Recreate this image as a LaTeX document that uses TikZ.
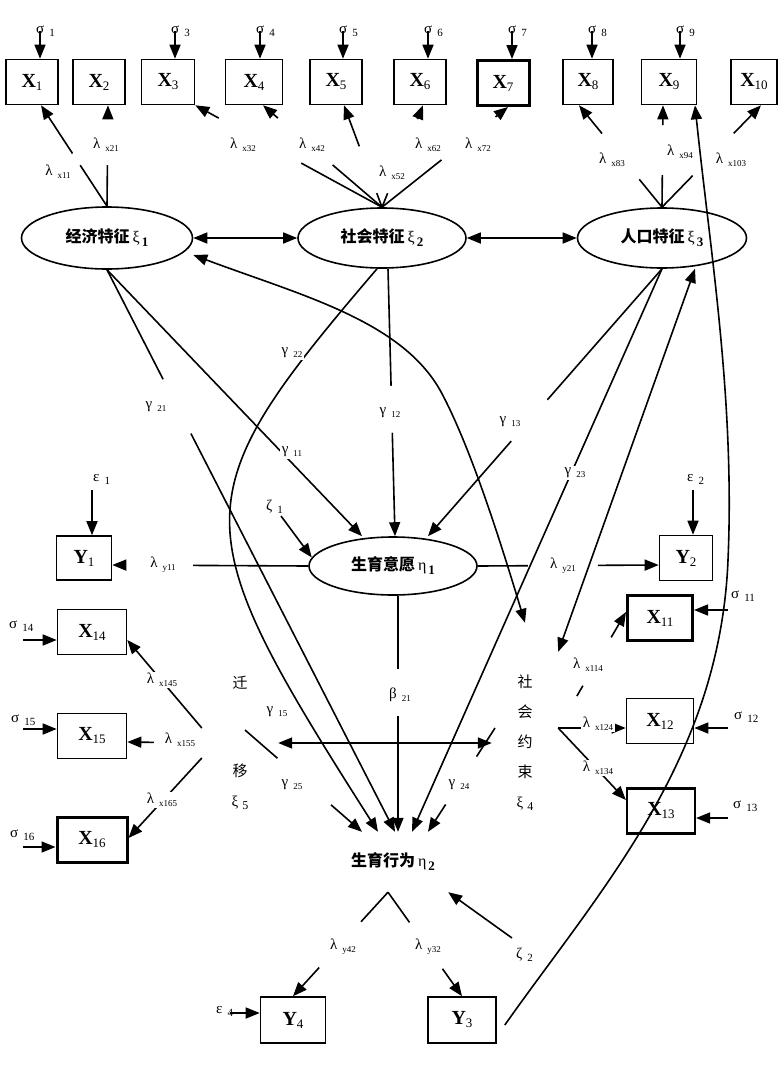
\documentclass[tikz,border=0pt]{standalone}
\usepackage{fontspec}
\setmainfont{Liberation Serif}
\newfontfamily\cjk{Noto Sans CJK SC}
\usetikzlibrary{shapes.geometric, arrows.meta}

\tikzstyle{obs} = [rectangle, draw=black, line width=1.6pt, minimum width=52pt, minimum height=45pt, inner sep=0pt, font=\fontsize{20}{20}\selectfont]
\tikzstyle{obsB} = [obs, line width=3pt]
\tikzstyle{latent} = [ellipse, draw=black, line width=1.6pt, minimum width=168pt, minimum height=60pt, inner sep=0pt, font=\fontsize{16}{16}\selectfont]
\tikzstyle{vlatent} = [rectangle, inner sep=0pt, align=center, font=\cjk\fontsize{15}{30}\selectfont]
\tikzstyle{coef} = [inner sep=1.5pt, fill=white, font=\fontsize{15}{15}\selectfont]
\tikzstyle{err} = [inner sep=0pt, anchor=west, font=\fontsize{15}{15}\selectfont]
\tikzstyle{arrow} = [line width=1.6pt, -{Triangle[length=14pt,width=11pt]}]
\tikzstyle{darrow} = [line width=1.6pt, {Triangle[length=14pt,width=11pt]}-{Triangle[length=14pt,width=11pt]}]
\tikzset{brk/.style 2 args={dash pattern=on #1 off #2 on 3000pt}}

\newcommand{\xv}[2]{\textbf{#1}\raisebox{-3pt}{\fontsize{13}{13}\selectfont #2}}
\newcommand{\cf}[2]{#1\hspace{5pt}\raisebox{-3pt}{\fontsize{9}{9}\selectfont #2}}
\newcommand{\er}[2]{#1\hspace{5pt}\raisebox{-3pt}{\fontsize{11}{11}\selectfont #2}}
\newcommand{\lv}[3]{{\cjk\bfseries #1}\hspace{3pt}#2\hspace{2pt}\raisebox{-4pt}{\fontsize{13}{13}\selectfont\bfseries #3}}

\begin{document}
\begin{tikzpicture}[x=1pt, y=-1pt]
\useasboundingbox (0,0) rectangle (778,1066);
% observed variables, top row
\node (X1) [obs] at (32,82) {\xv{X}{1}};
\node (X2) [obs] at (99,82) {\xv{X}{2}};
\node (X3) [obs, minimum width=53pt] at (168,82) {\xv{X}{3}};
\node (X4) [obs, minimum width=57pt] at (254,82) {\xv{X}{4}};
\node (X5) [obs] at (336,82) {\xv{X}{5}};
\node (X6) [obs] at (420,82) {\xv{X}{6}};
\node (X7) [obsB] at (503,83) {\xv{X}{7}};
\node (X8) [obs, minimum width=50pt] at (588,82) {\xv{X}{8}};
\node (X9) [obs, minimum width=55pt] at (669,82) {\xv{X}{9}};
\node (X10) [obs, minimum width=46pt] at (754,82) {\xv{X}{10}};
% latent variables
\node (ksi1) [latent, minimum width=171pt, minimum height=62pt] at (107,238) {\lv{经济特征}{ξ}{1}};
\node (ksi2) [latent] at (382,238) {\lv{社会特征}{ξ}{2}};
\node (ksi3) [latent, minimum width=169pt] at (662,238) {\lv{人口特征}{ξ}{3}};
\node (eta1) [latent, minimum height=58pt] at (393,566) {\lv{生育意愿}{η}{1}};
\node (eta2) [minimum width=110pt, minimum height=60pt, inner sep=0pt, font=\fontsize{16}{16}\selectfont] at (393,862) {\lv{生育行为}{η}{2}};
\node (ksi4) [vlatent, minimum width=66pt, minimum height=240pt] at (525,743) {社\\会\\约\\束\\{\rmfamily ξ\hspace{4pt}\raisebox{-3pt}{\fontsize{12}{12}\selectfont 4}}};
\node (ksi5) [vlatent, minimum width=76pt] at (240,743) {迁\\[58pt]移\\{\rmfamily ξ\hspace{4pt}\raisebox{-3pt}{\fontsize{12}{12}\selectfont 5}}};
% other observed variables
\node (Y1) [obs, minimum width=55pt, minimum height=44pt] at (84,558) {\xv{Y}{1}};
\node (Y2) [obs, minimum width=53pt] at (686,558) {\xv{Y}{2}};
\node (X11) [obsB, minimum width=65pt] at (660,618) {\xv{X}{11}};
\node (X12) [obs, minimum width=67pt] at (660,721) {\xv{X}{12}};
\node (X13) [obs, minimum width=68pt, line width=2.2pt] at (661,811) {\xv{X}{13}};
\node (X14) [obs, minimum width=69pt] at (92,632) {\xv{X}{14}};
\node (X15) [obs, minimum width=69pt] at (92,736) {\xv{X}{15}};
\node (X16) [obsB, minimum width=70pt] at (92,840) {\xv{X}{16}};
\node (Y4) [obs, minimum width=65pt, minimum height=46pt] at (293,1020) {\xv{Y}{4}};
\node (Y3) [obs, minimum width=68pt, minimum height=46pt] at (462,1020) {\xv{Y}{3}};

% error terms
\coordinate (e1) at (40,31);
\coordinate (e3) at (175,31);
\coordinate (e4) at (260,31);
\coordinate (e5) at (343,31);
\coordinate (e6) at (428,31);
\coordinate (e7) at (512,31);
\coordinate (e8) at (592,31);
\coordinate (e9) at (680,31);
\coordinate (e11) at (728,610);
\coordinate (e12) at (728,728);
\coordinate (e13) at (728,818);
\coordinate (e14) at (23,640);
\coordinate (e15) at (23,729);
\coordinate (e16) at (23,847);
\coordinate (ey1) at (92,490);
\coordinate (ey2) at (693,490);
\coordinate (ey4) at (230,1013);
\coordinate (z1) at (281,516);
\coordinate (z2) at (512,938);
\draw [arrow] (e1) -- ([xshift=8pt]X1.north);
\draw [arrow] (e3) -- ([xshift=7pt]X3.north);
\draw [arrow] (e4) -- ([xshift=6pt]X4.north);
\draw [arrow] (e5) -- ([xshift=7pt]X5.north);
\draw [arrow] (e6) -- ([xshift=8pt]X6.north);
\draw [arrow] (e7) -- ([xshift=9pt]X7.north);
\draw [arrow] (e8) -- ([xshift=4pt]X8.north);
\draw [arrow] (e9) -- ([xshift=11pt]X9.north);
\draw [arrow] (e11) -- ([yshift=8pt]X11.east);
\draw [arrow] (e12) -- ([yshift=-7pt]X12.east);
\draw [arrow] (e13) -- ([yshift=-7pt]X13.east);
\draw [arrow] (e14) -- ([yshift=-8pt]X14.west);
\draw [arrow] (e15) -- ([yshift=7pt]X15.west);
\draw [arrow] (e16) -- ([yshift=-7pt]X16.west);
\draw [arrow] (ey1) -- ([xshift=8pt]Y1.north);
\draw [arrow] (ey2) -- ([xshift=7pt]Y2.north);
\draw [arrow] (ey4) -- ([yshift=7pt]Y4.west);
\draw [arrow] (z1) -- (eta1.174);
\draw [arrow] (z2) -- (eta2.south east);

% measurement paths of xi
\draw [arrow, brk={49pt}{14pt}] (ksi1.north) -- ([xshift=9pt]X1.south);
\draw [arrow, brk={41pt}{60pt}] (ksi1.north) -- ([xshift=9pt]X2.south);
\draw [arrow, brk={92pt}{94pt}] (ksi2.north) -- (X3.south east);
\draw [arrow, brk={65pt}{72pt}] (ksi2.north) -- ([xshift=9pt]X4.south);
\draw [arrow, brk={15pt}{50pt}] (ksi2.north) -- ([xshift=8pt]X5.south);
\draw [arrow, brk={15pt}{80pt}] (ksi2.north) -- ([xshift=3pt]X6.south);
\draw [arrow, brk={76pt}{69pt}] (ksi2.north) -- ([xshift=5pt]X7.south);
\draw [arrow, brk={36pt}{59pt}] (ksi3.north) -- ([xshift=-9pt]X8.south);
\draw [arrow, brk={32pt}{50pt}] (ksi3.north) -- ([xshift=-6pt]X9.south);
\draw [arrow, brk={44pt}{59pt}] (ksi3.north) -- ([xshift=7pt]X10.south);
\draw [arrow] ([yshift=15pt]ksi5.west) -- ([yshift=-8pt]X14.east);
\draw [arrow, brk={0pt}{48pt}] (ksi5.west) -- ([yshift=-6pt]X15.east);
\draw [arrow] ([yshift=-15pt]ksi5.west) -- ([yshift=2pt]X16.east);
\draw [arrow, dash pattern=on 0pt off 37pt on 12pt off 56pt on 3000pt] ([yshift=15pt]ksi4.east) -- ([yshift=6pt]X11.west);
\draw [arrow] ([yshift=15pt]ksi4.east) -- ([yshift=-7pt]X12.west);
\draw [arrow] ([yshift=15pt]ksi4.east) -- ([yshift=11pt]X13.west);

% covariances
\draw [darrow] (ksi1.east) -- (ksi2.west);
\draw [darrow] (ksi2.east) -- (ksi3.west);
\draw [darrow] ([yshift=-17pt]ksi1.east) .. controls (300,295) and (400,320) .. (440,390) .. controls (470,445) and (500,540) .. (ksi4.north);
\draw [darrow] ([xshift=33pt]ksi3.south) -- ([yshift=-29pt]ksi4.north east);
\draw [darrow] (ksi5.east) -- (ksi4.west);
\draw [arrow] ([shift={(8pt,-5pt)}]Y3.east) .. controls (600,890) and (720,760) .. (728,560) .. controls (735,400) and (710,250) .. ([xshift=26pt]X9.south);

% structural paths
\draw [arrow] (ksi1.south) -- ([xshift=-31pt]eta1.north);
\draw [arrow, brk={123pt}{61pt}] (ksi1.south) -- ([xshift=2pt]eta2.north);
\draw [arrow, brk={117pt}{47pt}] ([xshift=6pt]ksi2.south) -- ([xshift=2pt]eta1.north);
\draw [arrow] ([xshift=-5pt]ksi2.south) .. controls (181,498) and (182,524) .. ([xshift=-15pt]eta2.north);
\draw [arrow, brk={174pt}{55pt}] (ksi3.south) -- ([xshift=35pt]eta1.north);
\draw [arrow] (ksi3.south) -- ([xshift=19pt]eta2.north);
\draw [arrow, brk={34pt}{57pt}] ([shift={(-30pt,15pt)}]ksi4.center) -- ([xshift=35pt]eta2.north);
\draw [arrow, brk={43pt}{71pt}] ([shift={(5pt,13pt)}]ksi5.center) -- ([xshift=-31pt]eta2.north);
\draw [arrow, brk={73pt}{47pt}] ([xshift=5pt]eta1.south) -- ([xshift=5pt]eta2.north);

% measurement paths of eta
\draw [arrow, brk={115pt}{100pt}] (eta1.west) -- ([yshift=-7pt]Y1.east);
\draw [arrow, brk={50pt}{70pt}] (eta1.east) -- ([yshift=-7pt]Y2.west);
\draw [arrow, brk={40pt}{62pt}] ([xshift=-5pt]eta2.south) -- (Y4.north);
\draw [arrow, brk={37pt}{57pt}] ([xshift=-5pt]eta2.south) -- (Y3.north);

% error labels
\node (s1) [err] at (36,31) {\er{σ}{1}};
\node (s3) [err] at (171,31) {\er{σ}{3}};
\node (s4) [err] at (256,31) {\er{σ}{4}};
\node (s5) [err] at (339,31) {\er{σ}{5}};
\node (s6) [err] at (424,31) {\er{σ}{6}};
\node (s7) [err] at (508,31) {\er{σ}{7}};
\node (s8) [err] at (588,31) {\er{σ}{8}};
\node (s9) [err] at (676,31) {\er{σ}{9}};
\node (s11) [err] at (731,596) {\er{σ}{11}};
\node (s12) [err] at (734,717) {\er{σ}{12}};
\node (s13) [err] at (733,806) {\er{σ}{13}};
\node (s14) [err] at (9,626) {\er{σ}{14}};
\node (s15) [err] at (11,720) {\er{σ}{15}};
\node (s16) [err] at (10,835) {\er{σ}{16}};
\node (ep1) [err] at (93,479) {\er{ε}{1}};
\node (ep2) [err] at (687,479) {\er{ε}{2}};
\node (ep4) [err] at (216,1011) {\er{ε}{4}};
\node (zt1) [err] at (266,507) {\er{ζ}{1}};
\node (zt2) [err] at (516,955) {\er{ζ}{2}};

% coefficient labels
\node (lx11) [coef] at (58,172) {\cf{λ}{x11}};
\node (lx21) [coef] at (106,145) {\cf{λ}{x21}};
\node (lx32) [coef] at (243,145) {\cf{λ}{x32}};
\node (lx42) [coef] at (312,145) {\cf{λ}{x42}};
\node (lx52) [coef] at (392,173) {\cf{λ}{x52}};
\node (lx62) [coef] at (428,145) {\cf{λ}{x62}};
\node (lx72) [coef] at (478,145) {\cf{λ}{x72}};
\node (lx83) [coef] at (612,160) {\cf{λ}{x83}};
\node (lx94) [coef] at (680,152) {\cf{λ}{x94}};
\node (lx103) [coef] at (731,160) {\cf{λ}{x103}};
\node (g21) [coef] at (156,407) {\cf{γ}{21}};
\node (g22) [coef] at (292,353) {\cf{γ}{22}};
\node (g11) [coef] at (292,452) {\cf{γ}{11}};
\node (g12) [coef] at (390,413) {\cf{γ}{12}};
\node (g13) [coef] at (510,422) {\cf{γ}{13}};
\node (g23) [coef] at (575,473) {\cf{γ}{23}};
\node (g15) [coef] at (277,712) {\cf{γ}{15}};
\node (g25) [coef] at (292,785) {\cf{γ}{25}};
\node (g24) [coef] at (459,785) {\cf{γ}{24}};
\node (b21) [coef] at (400,695) {\cf{β}{21}};
\node (ly11) [coef] at (163,565) {\cf{λ}{y11}};
\node (ly21) [coef] at (563,566) {\cf{λ}{y21}};
\node (lx145) [coef] at (162,680) {\cf{λ}{x145}};
\node (lx155) [coef] at (180,740) {\cf{λ}{x155}};
\node (lx165) [coef] at (162,800) {\cf{λ}{x165}};
\node (lx114) [coef] at (588,665) {\cf{λ}{x114}};
\node (lx124) [coef] at (598,724) {\cf{λ}{x124}};
\node (lx134) [coef] at (598,768) {\cf{λ}{x134}};
\node (ly42) [coef] at (343,947) {\cf{λ}{y42}};
\node (ly32) [coef] at (428,947) {\cf{λ}{y32}};
\end{tikzpicture}
\end{document}
